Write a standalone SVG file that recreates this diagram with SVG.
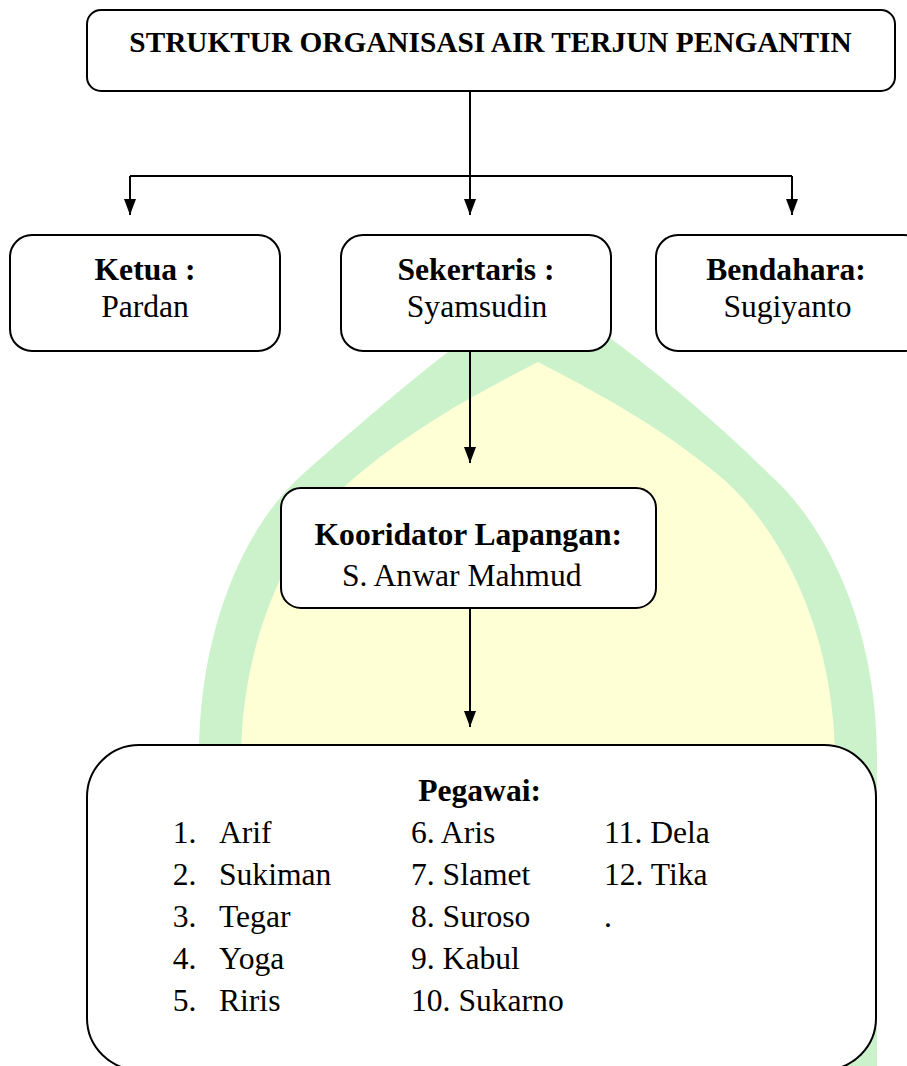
<svg xmlns="http://www.w3.org/2000/svg" width="907" height="1066" viewBox="0 0 907 1066">
<style>
text{font-family:"Liberation Serif","Times New Roman",serif;fill:#000}
.b{font-weight:bold}
.t{font-size:29.3px}
.n{font-size:31.6px}
.box{fill:#fff;stroke:#000;stroke-width:2}
.ln{fill:none;stroke:#000;stroke-width:2}
</style>
<defs>
<marker id="ah" viewBox="0 0 16 12" refX="16" refY="6" markerWidth="16" markerHeight="12" markerUnits="userSpaceOnUse" orient="auto">
<path d="M0,0 L16,6 L0,12 z" fill="#000"/>
</marker>
</defs>
<rect width="907" height="1066" fill="#fff"/>
<g id="watermark">
<path d="M199 1066 L199 757 C199 620 250 520 304 473 C364 421 460 335 538 290 C616 335 716 421 768 473 C822 520 877 620 877 757 L877 1066 Z" fill="#ccf2cc"/>
<path d="M241 1066 L241 760 C241 640 290 530 360 473 C420 424 480 392 538 362 C596 392 656 424 716 473 C786 530 835 640 835 760 L835 1066 Z" fill="#ffffd6"/>
</g>
<g id="connectors">
<path class="ln" d="M470 91 L470 176 M130 176 L792 176"/>
<path class="ln" d="M130 176 L130 215" marker-end="url(#ah)"/>
<path class="ln" d="M470 176 L470 215" marker-end="url(#ah)"/>
<path class="ln" d="M792 176 L792 215" marker-end="url(#ah)"/>
<path class="ln" d="M470 350 L470 463" marker-end="url(#ah)"/>
<path class="ln" d="M470 608 L470 727" marker-end="url(#ah)"/>
</g>
<g id="title">
<rect class="box" x="87" y="10" width="808" height="81" rx="14"/>
<text class="b t" x="490.5" y="52" text-anchor="middle">STRUKTUR ORGANISASI AIR TERJUN PENGANTIN</text>
</g>
<g id="ketua">
<rect class="box" x="10" y="235" width="270" height="116" rx="22"/>
<text class="b n" x="145" y="280" text-anchor="middle">Ketua :</text>
<text class="n" x="145" y="317" text-anchor="middle">Pardan</text>
</g>
<g id="sekertaris">
<rect class="box" x="341" y="235" width="270" height="116" rx="22"/>
<text class="b n" x="476" y="280" text-anchor="middle">Sekertaris :</text>
<text class="n" x="477" y="317" text-anchor="middle">Syamsudin</text>
</g>
<g id="bendahara">
<rect class="box" x="656" y="235" width="270" height="116" rx="22"/>
<text class="b n" x="786" y="280" text-anchor="middle">Bendahara:</text>
<text class="n" x="787.5" y="317" text-anchor="middle">Sugiyanto</text>
</g>
<g id="koordinator">
<rect class="box" x="281" y="488" width="375" height="120" rx="20"/>
<text class="b n" x="468.3" y="545" text-anchor="middle">Kooridator Lapangan:</text>
<text class="n" x="461.7" y="586" text-anchor="middle">S. Anwar Mahmud</text>
</g>
<g id="pegawai">
<rect class="box" x="87" y="745" width="789" height="325" rx="52"/>
<text class="b n" x="479.6" y="801" text-anchor="middle">Pegawai:</text>
<text class="n" x="172.7" y="843">1.</text><text class="n" x="219" y="843">Arif</text>
<text class="n" x="172.7" y="885">2.</text><text class="n" x="219" y="885">Sukiman</text>
<text class="n" x="172.7" y="927">3.</text><text class="n" x="219" y="927">Tegar</text>
<text class="n" x="172.7" y="969">4.</text><text class="n" x="219" y="969">Yoga</text>
<text class="n" x="172.7" y="1011">5.</text><text class="n" x="219" y="1011">Riris</text>
<text class="n" x="411" y="843">6. Aris</text>
<text class="n" x="411" y="885">7. Slamet</text>
<text class="n" x="411" y="927">8. Suroso</text>
<text class="n" x="411" y="969">9. Kabul</text>
<text class="n" x="411" y="1011">10. Sukarno</text>
<text class="n" x="604" y="843">11. Dela</text>
<text class="n" x="604" y="885">12. Tika</text>
<text class="n" x="604" y="927">.</text>
</g>
</svg>
